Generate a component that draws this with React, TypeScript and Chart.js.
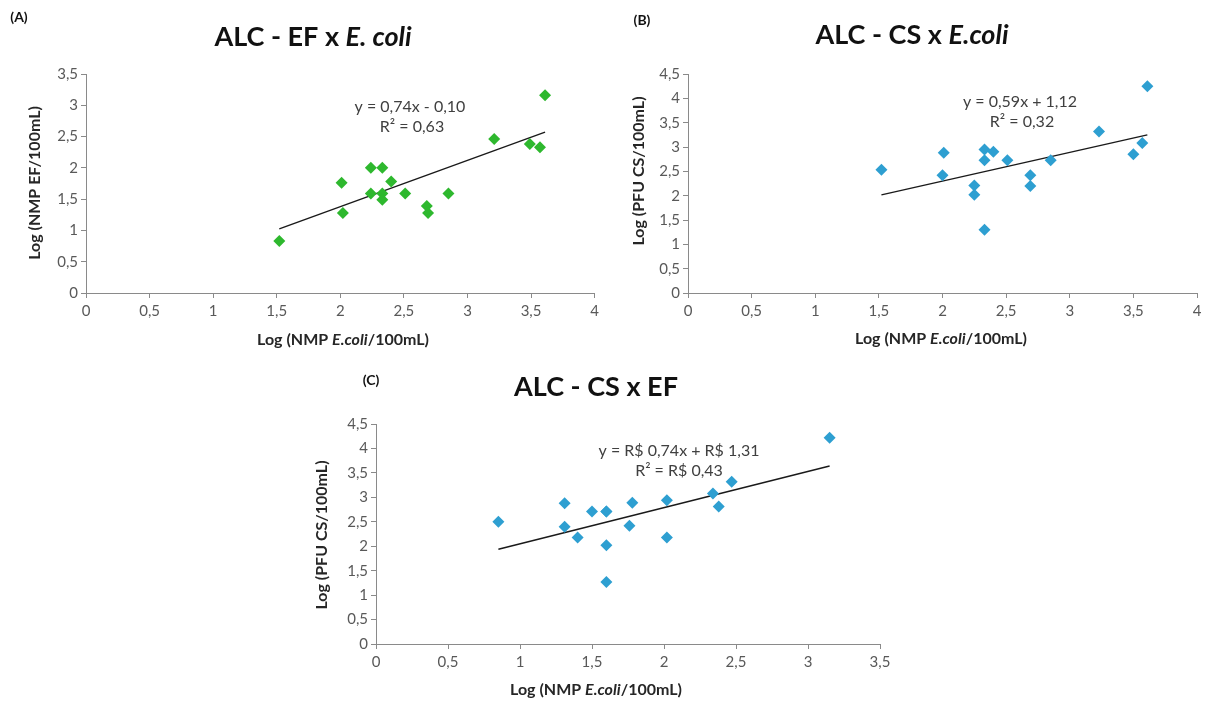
import React, { useEffect, useRef } from "react";
import { Chart, registerables } from "chart.js";
Chart.register(...registerables);

// ---- Data ----
// (A) EF vs E. coli
const ecoliA = [1.52, 2.01, 2.02, 2.24, 2.24, 2.33, 2.33, 2.33, 2.40, 2.51, 2.68, 2.69, 2.85, 3.21, 3.49, 3.57, 3.61];
const efA = [0.83, 1.76, 1.28, 2.0, 1.59, 2.0, 1.59, 1.49, 1.78, 1.59, 1.39, 1.28, 1.59, 2.46, 2.38, 2.33, 3.16];
// (B) CS vs E. coli
const ecoliB = [1.52, 2.01, 2.0, 2.25, 2.25, 2.33, 2.33, 2.33, 2.40, 2.51, 2.69, 2.69, 2.85, 3.23, 3.50, 3.57, 3.61];
const csB = [2.53, 2.88, 2.42, 2.21, 2.02, 2.95, 2.73, 1.30, 2.90, 2.73, 2.42, 2.20, 2.73, 3.32, 2.85, 3.08, 4.25];
// (C) CS vs EF
const efC = [0.85, 1.31, 1.31, 1.40, 1.50, 1.60, 1.60, 1.60, 1.60, 1.78, 1.76, 2.02, 2.02, 2.34, 2.38, 2.47, 3.15];
const csC = [2.50, 2.88, 2.40, 2.18, 2.71, 2.71, 2.71, 2.02, 1.27, 2.89, 2.42, 2.94, 2.18, 3.08, 2.81, 3.32, 4.22];
// Trendline coefficients [slope, intercept]
const trendA = [0.74, -0.10];
const trendB = [0.59, 1.12];
const trendC = [0.74, 1.31];
// Axis ranges [xMax, yMax]
const rangeA = [4, 3.5];
const rangeB = [4, 4.5];
const rangeC = [3.5, 4.5];

const FONT = "Lato, 'DejaVu Sans', sans-serif";

type Seg = { t: string; i?: boolean };
type TextItem = { x: number; y: number; segs: Seg[]; size: number; bold?: boolean; color: string; rot?: boolean };

function makeTextPlugin(items: TextItem[], ox: number, oy: number) {
  return {
    id: "richText",
    afterDraw(chart: any) {
      const ctx = chart.ctx as CanvasRenderingContext2D;
      for (const it of items) {
        ctx.save();
        ctx.translate(it.x - ox, it.y - oy);
        if (it.rot) ctx.rotate(-Math.PI / 2);
        ctx.textBaseline = "middle";
        ctx.textAlign = "left";
        ctx.fillStyle = it.color;
        const fonts = it.segs.map(
          (s) => `${s.i ? "italic " : ""}${it.bold ? "bold " : ""}${it.size}px ${FONT}`
        );
        let total = 0;
        const widths = it.segs.map((s, k) => {
          ctx.font = fonts[k];
          const w = ctx.measureText(s.t).width;
          total += w;
          return w;
        });
        let x = -total / 2;
        it.segs.forEach((s, k) => {
          ctx.font = fonts[k];
          ctx.fillText(s.t, x, 0);
          x += widths[k];
        });
        ctx.restore();
      }
    },
  };
}

type Props = {
  xs: number[];
  ys: number[];
  trend: number[];
  range: number[];
  color: string;
  left: number;
  top: number;
  width: number;
  height: number;
  area: { l: number; r: number; t: number; b: number };
  texts: TextItem[];
};

function fmt(v: any) {
  return String(Math.round(Number(v) * 100) / 100).replace(".", ",");
}

function ScatterChart(p: Props) {
  const ref = useRef<HTMLCanvasElement>(null);
  useEffect(() => {
    const pts = p.xs.map((x, i) => ({ x, y: p.ys[i] }));
    const xMin = Math.min(...p.xs);
    const xMax = Math.max(...p.xs);
    const line = [
      { x: xMin, y: p.trend[0] * xMin + p.trend[1] },
      { x: xMax, y: p.trend[0] * xMax + p.trend[1] },
    ];
    const axisColor = "#8a8a8a";
    const tickFont = { family: FONT, size: 15 };
    const chart = new Chart(ref.current!, {
      type: "scatter",
      data: {
        datasets: [
          {
            data: line,
            type: "line",
            showLine: true,
            borderColor: "#1a1a1a",
            borderWidth: 1.4,
            pointRadius: 0,
            fill: false,
            order: 2,
          } as any,
          {
            data: pts,
            pointStyle: "rectRot",
            pointRadius: 6,
            backgroundColor: p.color,
            borderColor: p.color,
            borderWidth: 0,
            order: 1,
          },
        ],
      },
      options: {
        responsive: false,
        animation: false,
        layout: {
          padding: { left: 0, top: p.area.t, right: p.width - p.area.r, bottom: 0 },
        },
        plugins: { legend: { display: false }, tooltip: { enabled: false }, title: { display: false } },
        scales: {
          x: {
            type: "linear",
            min: 0,
            max: p.range[0],
            afterFit: (s: any) => {
              s.height = p.height - p.area.b;
            },
            ticks: { stepSize: 0.5, color: "#595959", font: tickFont, padding: 4, callback: fmt, maxRotation: 0 },
            grid: { drawOnChartArea: false, drawTicks: true, tickLength: 5, color: axisColor },
            border: { display: true, color: axisColor, width: 1 },
          },
          y: {
            type: "linear",
            min: 0,
            max: p.range[1],
            afterFit: (s: any) => {
              s.width = p.area.l;
            },
            ticks: { stepSize: 0.5, color: "#595959", font: tickFont, padding: 3, callback: fmt },
            grid: { drawOnChartArea: false, drawTicks: true, tickLength: 5, color: axisColor },
            border: { display: true, color: axisColor, width: 1 },
          },
        },
      },
      plugins: [makeTextPlugin(p.texts, p.left, p.top)],
    });
    return () => chart.destroy();
  }, []);
  return (
    <canvas
      ref={ref}
      width={p.width}
      height={p.height}
      style={{ position: "absolute", left: p.left, top: p.top, width: p.width, height: p.height }}
    />
  );
}

const TITLE = "#111111";
const AX = "#262626";
const EQ = "#404040";

export default function App() {
  const textsA: TextItem[] = [
    { x: 19, y: 17, segs: [{ t: "(A)" }], size: 14, bold: true, color: TITLE },
    { x: 313, y: 37, segs: [{ t: "ALC - EF x " }, { t: "E. coli", i: true }], size: 27, bold: true, color: TITLE },
    { x: 35, y: 183, segs: [{ t: "Log (NMP EF/100mL)" }], size: 16, bold: true, color: AX, rot: true },
    { x: 343, y: 340, segs: [{ t: "Log (NMP " }, { t: "E.coli", i: true }, { t: "/100mL)" }], size: 16, bold: true, color: AX },
    { x: 410, y: 107, segs: [{ t: "y = 0,74x - 0,10" }], size: 16, color: EQ },
    { x: 412, y: 127, segs: [{ t: "R² = 0,63" }], size: 16, color: EQ },
  ];
  const textsB: TextItem[] = [
    { x: 642, y: 20, segs: [{ t: "(B)" }], size: 14, bold: true, color: TITLE },
    { x: 912, y: 35, segs: [{ t: "ALC - CS x " }, { t: "E.coli", i: true }], size: 27, bold: true, color: TITLE },
    { x: 639, y: 171, segs: [{ t: "Log (PFU CS/100mL)" }], size: 16, bold: true, color: AX, rot: true },
    { x: 941, y: 339, segs: [{ t: "Log (NMP " }, { t: "E.coli", i: true }, { t: "/100mL)" }], size: 16, bold: true, color: AX },
    { x: 1020, y: 102, segs: [{ t: "y = 0,59x + 1,12" }], size: 16, color: EQ },
    { x: 1022, y: 122, segs: [{ t: "R² = 0,32" }], size: 16, color: EQ },
  ];
  const textsC: TextItem[] = [
    { x: 371, y: 380, segs: [{ t: "(C)" }], size: 14, bold: true, color: TITLE },
    { x: 596, y: 387, segs: [{ t: "ALC - CS x EF" }], size: 27, bold: true, color: TITLE },
    { x: 322, y: 535, segs: [{ t: "Log (PFU CS/100mL)" }], size: 16, bold: true, color: AX, rot: true },
    { x: 596, y: 690, segs: [{ t: "Log (NMP " }, { t: "E.coli", i: true }, { t: "/100mL)" }], size: 16, bold: true, color: AX },
    { x: 679, y: 451, segs: [{ t: "y = R$ 0,74x + R$ 1,31" }], size: 16, color: EQ },
    { x: 679, y: 471, segs: [{ t: "R² = R$ 0,43" }], size: 16, color: EQ },
  ];
  return (
    <div style={{ position: "fixed", left: 0, top: 0, width: 1207, height: 702, background: "#ffffff", overflow: "hidden" }}>
      <ScatterChart
        xs={ecoliA} ys={efA} trend={trendA} range={rangeA} color="#2eb82e"
        left={0} top={0} width={603} height={360}
        area={{ l: 86, r: 597, t: 74, b: 293 }} texts={textsA}
      />
      <ScatterChart
        xs={ecoliB} ys={csB} trend={trendB} range={rangeB} color="#2e9fd1"
        left={603} top={0} width={604} height={360}
        area={{ l: 85, r: 594, t: 74, b: 293 }} texts={textsB}
      />
      <ScatterChart
        xs={efC} ys={csC} trend={trendC} range={rangeC} color="#2e9fd1"
        left={300} top={360} width={600} height={342}
        area={{ l: 76, r: 580, t: 64, b: 284 }} texts={textsC}
      />
    </div>
  );
}
